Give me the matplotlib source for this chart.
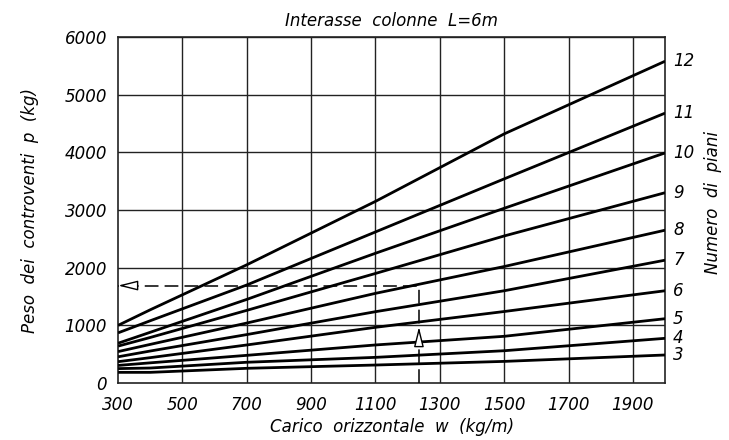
import numpy as np
import matplotlib
matplotlib.use('Agg')
import matplotlib.pyplot as plt

# carico orizzontale w (kg/m) at which the curves were read
w_points = [300, 400, 700, 1100, 1500, 2000]

# peso dei controventi p (kg) for each number of floors
p_3 = [185, 185, 255, 312, 375, 486]
p_4 = [250, 260, 360, 445, 560, 775]
p_5 = [305, 350, 480, 660, 810, 1115]
p_6 = [370, 440, 660, 966, 1240, 1600]
p_7 = [455, 555, 840, 1237, 1600, 2130]
p_8 = [545, 670, 1040, 1555, 2020, 2650]
p_9 = [640, 790, 1260, 1900, 2550, 3300]
p_10 = [690, 880, 1450, 2250, 3030, 3990]
p_11 = [870, 1080, 1700, 2620, 3540, 4680]
p_12 = [1000, 1270, 2050, 3150, 4320, 5580]

floors = [3, 4, 5, 6, 7, 8, 9, 10, 11, 12]
curves = [p_3, p_4, p_5, p_6, p_7, p_8, p_9, p_10, p_11, p_12]

x_ticks = [300, 500, 700, 900, 1100, 1300, 1500, 1700, 1900]
y_ticks = [0, 1000, 2000, 3000, 4000, 5000, 6000]

# example reading (dashed path)
guide_w = 1235
guide_p = 1690

font = dict(family='DejaVu Sans', style='italic', fontsize=12)

fig = plt.figure(figsize=(7.29, 4.40), dpi=100)
ax = fig.add_axes([0.162, 0.1295, 0.7503, 0.7864])

for xv in x_ticks[1:]:
    ax.axvline(xv, color='#222222', lw=1.0, zorder=1)
for yv in y_ticks[1:]:
    ax.axhline(yv, color='#222222', lw=1.0, zorder=1)

for n, p in zip(floors, curves):
    ax.plot(w_points, p, color='black', lw=2.0, solid_capstyle='butt', zorder=3)
    ax.text(2000 + 25, p[-1], str(n), ha='left', va='center', **font)

# dashed guide
ax.plot([guide_w, guide_w, 300], [0, guide_p, guide_p], color='black', lw=1.1,
        dashes=(9, 4), zorder=4)
ax.annotate('', xy=(300, guide_p), xytext=(345, guide_p),
            arrowprops=dict(arrowstyle='-|>,head_length=1.2,head_width=0.3',
                            fc='white', ec='black', lw=1.0,
                            shrinkA=0, shrinkB=0), zorder=5)
ax.annotate('', xy=(guide_w, 970), xytext=(guide_w, 780),
            arrowprops=dict(arrowstyle='-|>,head_length=1.2,head_width=0.3',
                            fc='white', ec='black', lw=1.0,
                            shrinkA=0, shrinkB=0), zorder=5)

ax.set_xlim(300, 2000)
ax.set_ylim(0, 6000)
ax.set_xticks(x_ticks)
ax.set_yticks(y_ticks)
ax.set_xticklabels([str(v) for v in x_ticks], **font)
ax.set_yticklabels([str(v) for v in y_ticks], **font)
ax.tick_params(length=0, pad=8)
ax.tick_params(axis='x', pad=9)
for s in ax.spines.values():
    s.set_linewidth(1.2)
    s.set_color('#222222')

ax.set_xlabel('Carico  orizzontale  w  (kg/m)', labelpad=3, **font)
ax.set_ylabel('Peso  dei  controventi  p  (kg)', labelpad=18, **font)
ax.set_title('Interasse  colonne  L=6m', pad=8, **font)
fig.text(0.978, 0.54, 'Numero  di  piani', rotation=90, ha='center', va='center', **font)

fig.savefig('out.png', dpi=100)
